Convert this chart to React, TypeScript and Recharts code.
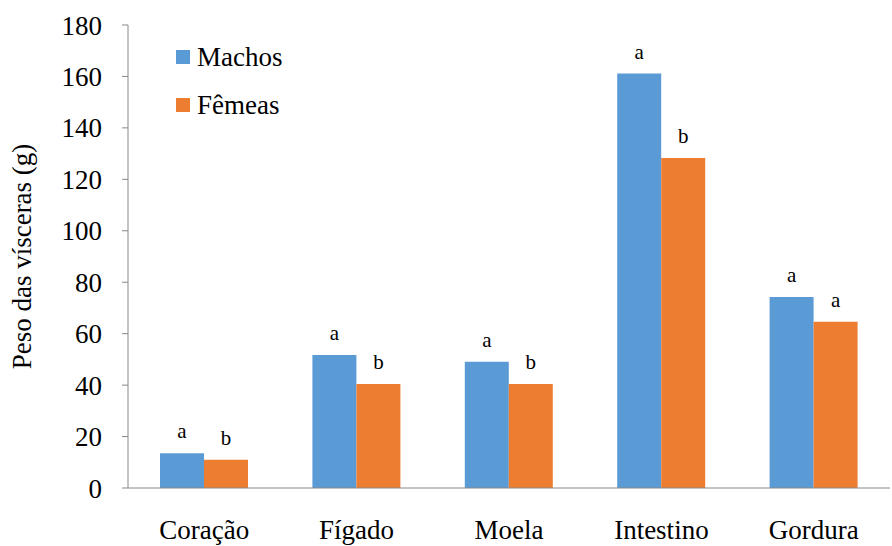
import { BarChart, Bar, XAxis, YAxis, LabelList } from "recharts";

// Visceral weights (g) by sex
const categories = ["Coração", "Fígado", "Moela", "Intestino", "Gordura"];
const machos = [13.5, 51.7, 49.1, 161.1, 74.3];
const femeas = [11.0, 40.4, 40.4, 128.3, 64.6];
const machosLetters = ["a", "a", "a", "a", "a"];
const femeasLetters = ["b", "b", "b", "b", "a"];
const yTicks = [0, 20, 40, 60, 80, 100, 120, 140, 160, 180];

const BLUE = "#5B9BD5";
const ORANGE = "#ED7D31";
const AXIS = "#888888";
const FONT =
  "'Liberation Serif', 'Times New Roman', Times, Tinos, 'Noto Serif', 'DejaVu Serif', 'Nimbus Roman', FreeSerif, serif";

const data = categories.map((name, i) => ({
  name,
  machos: machos[i],
  femeas: femeas[i],
  machosLetter: machosLetters[i],
  femeasLetter: femeasLetters[i],
}));

// Legend sits inside the plot area, top-left, so it's drawn as an overlay
function LegendBox() {
  const items = [
    { label: "Machos", color: BLUE },
    { label: "Fêmeas", color: ORANGE },
  ];
  return (
    <div
      style={{
        position: "absolute",
        left: 176,
        top: 33,
        fontFamily: FONT,
        fontSize: 27,
        color: "#000",
      }}
    >
      {items.map((it) => (
        <div key={it.label} style={{ display: "flex", alignItems: "center", height: 48 }}>
          <span style={{ width: 14, height: 14, background: it.color, marginRight: 7 }} />
          <span>{it.label}</span>
        </div>
      ))}
    </div>
  );
}

export default function App() {
  return (
    <div style={{ position: "absolute", left: 0, top: 0, width: 892, height: 546, background: "#fff" }}>
      <BarChart
        width={892}
        height={546}
        data={data}
        margin={{ top: 25, right: 2, left: 0, bottom: 0 }}
        barGap={0}
        barCategoryGap={32}
      >
        <XAxis
          dataKey="name"
          height={58}
          tickLine={false}
          axisLine={{ stroke: AXIS }}
          tickSize={8}
          tickMargin={24}
          tick={{ fontSize: 27, fill: "#000", fontFamily: FONT }}
          interval={0}
        />
        {/* second axis without labels, only to put tick marks between the categories */}
        <XAxis
          xAxisId="bounds"
          type="number"
          domain={[0, 5]}
          ticks={[0, 1, 2, 3, 4, 5]}
          height={0}
          axisLine={false}
          tickLine={{ stroke: AXIS }}
          tickSize={8}
          tick={false}
        />
        <YAxis
          domain={[0, 180]}
          ticks={yTicks}
          width={128}
          tickSize={6}
          tickMargin={20}
          axisLine={{ stroke: AXIS }}
          tickLine={{ stroke: AXIS }}
          tick={{ fontSize: 27, fill: "#000", fontFamily: FONT }}
          label={{
            value: "Peso das vísceras (g)",
            angle: -90,
            position: "insideLeft",
            offset: 21,
            style: { textAnchor: "middle", fontSize: 27, fill: "#000", fontFamily: FONT },
          }}
        />
        <Bar dataKey="machos" name="Machos" fill={BLUE} isAnimationActive={false}>
          <LabelList
            dataKey="machosLetter"
            position="top"
            offset={15}
            style={{ fontSize: 21, fill: "#000", fontFamily: FONT }}
          />
        </Bar>
        <Bar dataKey="femeas" name="Fêmeas" fill={ORANGE} isAnimationActive={false}>
          <LabelList
            dataKey="femeasLetter"
            position="top"
            offset={15}
            style={{ fontSize: 21, fill: "#000", fontFamily: FONT }}
          />
        </Bar>
      </BarChart>
      <LegendBox />
    </div>
  );
}
